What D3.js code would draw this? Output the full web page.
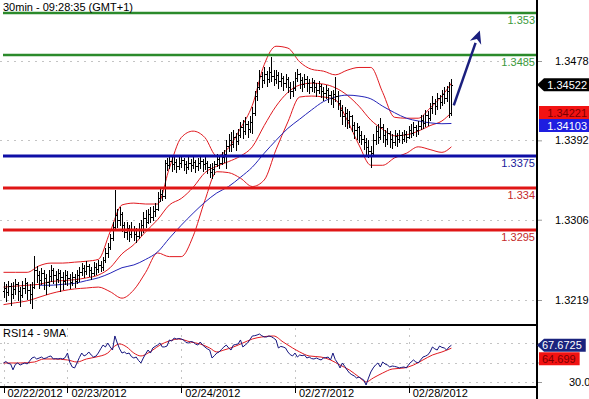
<!DOCTYPE html>
<html>
<head>
<meta charset="utf-8">
<script src="https://cdnjs.cloudflare.com/ajax/libs/d3/7.8.5/d3.min.js"></script>
<style>
  body { margin: 0; background: #fff; }
  svg { display: block; font-family: Arial, "Liberation Sans", sans-serif; }
</style>
</head>
<body>
<svg width="589" height="399"></svg>
<script>
  // DATA
  // 30 min bars, open = previous close
  var firstOpen = 1.3229;
  var closes = [
    1.3232,1.3228,1.3234,1.3226,1.3231,1.3236,1.3229,1.3224,1.3232,1.3237,
    1.3230,1.3226,1.3233,1.3252,1.3246,1.3241,1.3248,1.3243,1.3238,1.3245,
    1.3251,1.3246,1.3242,1.3248,1.3244,1.3240,1.3246,1.3243,1.3238,1.3244,
    1.3240,1.3246,1.3249,1.3254,1.3250,1.3256,1.3252,1.3248,1.3255,1.3253,
    1.3257,1.3255,1.3262,1.3270,1.3276,1.3286,1.3298,1.3311,1.3306,1.3312,
    1.3300,1.3293,1.3297,1.3290,1.3296,1.3291,1.3288,1.3295,1.3300,1.3308,
    1.3303,1.3312,1.3309,1.3315,1.3318,1.3330,1.3334,1.3332,1.3368,1.3365,
    1.3370,1.3366,1.3369,1.3364,1.3368,1.3371,1.3366,1.3363,1.3368,1.3365,
    1.3369,1.3364,1.3367,1.3370,1.3366,1.3368,1.3363,1.3358,1.3361,1.3366,
    1.3372,1.3368,1.3374,1.3377,1.3386,1.3392,1.3388,1.3396,1.3391,1.3398,
    1.3406,1.3402,1.3410,1.3404,1.3412,1.3422,1.3440,1.3450,1.3462,1.3457,
    1.3464,1.3459,1.3466,1.3462,1.3458,1.3463,1.3456,1.3460,1.3454,1.3459,
    1.3450,1.3445,1.3449,1.3460,1.3464,1.3457,1.3453,1.3458,1.3454,1.3450,
    1.3455,1.3450,1.3447,1.3451,1.3445,1.3443,1.3447,1.3441,1.3438,1.3442,
    1.3440,1.3432,1.3425,1.3418,1.3422,1.3414,1.3418,1.3409,1.3403,1.3406,
    1.3398,1.3394,1.3390,1.3385,1.3380,1.3378,1.3392,1.3402,1.3396,1.3406,
    1.3398,1.3393,1.3400,1.3394,1.3390,1.3397,1.3393,1.3398,1.3394,1.3399,
    1.3396,1.3403,1.3400,1.3407,1.3403,1.3408,1.3414,1.3411,1.3419,1.3416,
    1.3427,1.3433,1.3429,1.3438,1.3434,1.3442,1.3438,1.3445,1.3422,1.34522
  ];
  var highs = [
    1.3238,1.3236,1.3240,1.3237,1.3239,1.3242,1.3238,1.3233,1.3240,1.3243,
    1.3239,1.3236,1.3238,1.3267,1.3256,1.3250,1.3254,1.3252,1.3247,1.3251,
    1.3257,1.3254,1.3250,1.3253,1.3252,1.3249,1.3251,1.3250,1.3247,1.3249,
    1.3247,1.3251,1.3255,1.3259,1.3257,1.3261,1.3258,1.3255,1.3260,1.3259,
    1.3262,1.3261,1.3266,1.3275,1.3281,1.3291,1.3304,1.3338,1.3318,1.3320,
    1.3314,1.3304,1.3303,1.3300,1.3304,1.3299,1.3297,1.3302,1.3306,1.3314,
    1.3316,1.3318,1.3320,1.3321,1.3324,1.3336,1.3339,1.3338,1.3371,1.3373,
    1.3375,1.3374,1.3376,1.3372,1.3374,1.3376,1.3373,1.3370,1.3374,1.3372,
    1.3375,1.3371,1.3373,1.3375,1.3372,1.3374,1.3370,1.3366,1.3368,1.3370,
    1.3377,1.3375,1.3379,1.3382,1.3392,1.3399,1.3401,1.3403,1.3400,1.3404,
    1.3412,1.3414,1.3417,1.3413,1.3418,1.3428,1.3446,1.3455,1.3468,1.3466,
    1.3471,1.3467,1.3471,1.3482,1.3468,1.3468,1.3466,1.3465,1.3462,1.3464,
    1.3461,1.3455,1.3456,1.3466,1.3469,1.3465,1.3461,1.3464,1.3462,1.3458,
    1.3460,1.3457,1.3454,1.3456,1.3453,1.3450,1.3452,1.3449,1.3446,1.3447,
    1.3461,1.3445,1.3436,1.3430,1.3428,1.3426,1.3424,1.3419,1.3412,1.3411,
    1.3408,1.3402,1.3398,1.3395,1.3392,1.3386,1.3399,1.3408,1.3410,1.3416,
    1.3410,1.3403,1.3405,1.3402,1.3399,1.3403,1.3400,1.3403,1.3401,1.3403,
    1.3402,1.3408,1.3410,1.3412,1.3409,1.3413,1.3419,1.3420,1.3425,1.3424,
    1.3432,1.3440,1.3437,1.3443,1.3441,1.3447,1.3450,1.3451,1.3455,1.3458
  ];
  var lows = [
    1.3222,1.3218,1.3224,1.3214,1.3221,1.3225,1.3219,1.3212,1.3222,1.3227,
    1.3220,1.3216,1.3210,1.3232,1.3238,1.3232,1.3236,1.3231,1.3226,1.3234,
    1.3240,1.3237,1.3233,1.3238,1.3229,1.3231,1.3236,1.3235,1.3232,1.3235,
    1.3233,1.3237,1.3240,1.3246,1.3244,1.3247,1.3245,1.3242,1.3246,1.3247,
    1.3249,1.3250,1.3252,1.3260,1.3266,1.3274,1.3284,1.3296,1.3298,1.3300,
    1.3294,1.3287,1.3285,1.3283,1.3287,1.3284,1.3282,1.3286,1.3289,1.3293,
    1.3298,1.3302,1.3304,1.3306,1.3310,1.3317,1.3326,1.3327,1.3330,1.3360,
    1.3362,1.3359,1.3361,1.3358,1.3361,1.3363,1.3360,1.3357,1.3361,1.3359,
    1.3362,1.3358,1.3360,1.3362,1.3359,1.3361,1.3357,1.3352,1.3351,1.3356,
    1.3364,1.3362,1.3366,1.3369,1.3362,1.3381,1.3380,1.3385,1.3382,1.3388,
    1.3396,1.3395,1.3399,1.3396,1.3401,1.3400,1.3420,1.3436,1.3448,1.3450,
    1.3454,1.3451,1.3455,1.3456,1.3452,1.3454,1.3449,1.3451,1.3447,1.3450,
    1.3444,1.3438,1.3440,1.3447,1.3456,1.3449,1.3446,1.3450,1.3445,1.3443,
    1.3446,1.3444,1.3440,1.3443,1.3439,1.3436,1.3438,1.3434,1.3431,1.3428,
    1.3435,1.3426,1.3418,1.3410,1.3408,1.3405,1.3407,1.3402,1.3395,1.3394,
    1.3390,1.3388,1.3383,1.3377,1.3374,1.3363,1.3375,1.3388,1.3389,1.3393,
    1.3390,1.3386,1.3388,1.3385,1.3384,1.3387,1.3386,1.3390,1.3389,1.3391,
    1.3390,1.3395,1.3396,1.3398,1.3397,1.3399,1.3404,1.3405,1.3408,1.3409,
    1.3414,1.3422,1.3421,1.3426,1.3427,1.3430,1.3432,1.3435,1.3417,1.3420
  ];

  // first bar of each day
  var dayIdx = [0, 27, 75, 123, 171];
  var dayLabels = ["02/22/2012", "02/23/2012", "02/24/2012", "02/27/2012", "02/28/2012"];

  // bollinger bands and long MA, read every 5 bars
  var bandIdx = [0,5,10,15,20,25,30,35,40,45,50,55,60,65,70,75,80,85,90,95,
                 100,105,110,115,120,125,130,135,140,145,150,155,160,165,170,175,180,185,189];
  var bbUpper = [1.3249,1.3249,1.3249,1.3256,1.3259,1.3259,1.3260,1.3261,1.3263,1.3293,
                 1.3322,1.3324,1.3323,1.3323,1.3362,1.3395,1.3402,1.3395,1.3375,1.3384,
                 1.3405,1.3430,1.3474,1.3494,1.3492,1.3477,1.3469,1.3467,1.3463,1.3468,
                 1.3471,1.3471,1.3444,1.3417,1.3416,1.3416,1.3427,1.3440,1.3454];
  var bbMid = [1.3233,1.3234,1.3235,1.3236,1.3239,1.3240,1.3241,1.3243,1.3246,1.3254,
               1.3269,1.3279,1.3293,1.3306,1.3322,1.3329,1.3341,1.3357,1.3364,1.3369,
               1.3375,1.3385,1.3408,1.3429,1.3444,1.3452,1.3454,1.3453,1.3449,1.3441,
               1.3429,1.3414,1.3404,1.3397,1.3398,1.3402,1.3408,1.3413,1.34221];
  var bbLower = [1.3214,1.3216,1.3218,1.3222,1.3226,1.3229,1.3231,1.3232,1.3233,1.3228,
                 1.3221,1.3230,1.3249,1.3270,1.3266,1.3266,1.3288,1.3327,1.3358,1.3357,
                 1.3351,1.3342,1.3349,1.3382,1.3412,1.3439,1.3440,1.3439,1.3436,1.3414,
                 1.3387,1.3365,1.3365,1.3373,1.3378,1.3385,1.3382,1.3379,1.3385];
  var maLong = [null,null,null,1.3235,1.3235,1.3236,1.3237,1.3240,1.3243,1.3248,
                1.3254,1.3257,1.3263,1.3271,1.3286,1.3300,1.3313,1.3325,1.3335,1.3342,
                1.3352,1.3363,1.3378,1.3392,1.3405,1.3415,1.3425,1.3434,1.3439,1.3441,
                1.3440,1.3437,1.3429,1.3422,1.3416,1.3413,1.3411,1.3410,1.34103];

  var levelValues = [1.353, 1.3485, 1.3375, 1.334, 1.3295];
  var levelLabels = ["1.353", "1.3485", "1.3375", "1.334", "1.3295"];
  var priceTicks = [1.3478, 1.3392, 1.3306, 1.3219];

  var rsiValues = [
    49.5,51.0,49.0,48.5,42.5,48.0,49.5,47.4,48.5,49.5,
    48.5,51.5,54.6,55.6,53.6,54.5,55.6,54.0,54.6,56.0,
    56.7,53.6,54.0,53.6,54.2,53.6,55.0,59.7,50.0,45.4,
    44.4,49.5,55.0,59.7,56.7,58.0,60.8,57.7,55.6,56.5,
    59.7,64.0,67.9,65.9,70.0,66.0,62.8,77.2,70.0,64.0,
    59.7,60.8,59.0,59.7,56.0,54.6,55.6,52.0,49.5,54.6,
    59.0,62.8,59.7,64.9,66.5,67.9,70.0,65.9,66.0,66.9,
    73.1,72.0,75.1,74.0,74.6,74.1,73.1,70.5,70.0,71.5,
    71.0,69.0,67.9,71.0,68.0,65.9,64.0,62.8,54.6,57.0,
    59.7,60.8,63.5,65.9,67.9,65.0,62.8,67.9,68.5,69.0,
    73.1,65.9,68.0,70.0,73.5,77.2,77.5,78.2,79.2,77.5,
    76.2,76.2,77.2,76.5,75.0,73.1,64.9,66.5,65.9,64.9,
    60.8,58.0,56.7,59.7,55.6,57.7,57.0,57.7,54.6,55.6,
    54.0,53.6,54.6,53.5,52.6,54.6,55.0,55.6,52.6,59.7,
    53.0,49.5,44.4,49.5,46.0,42.3,39.2,37.5,36.2,34.1,
    35.1,33.5,32.1,26.9,34.0,40.3,44.4,47.5,49.5,45.4,
    50.5,48.5,47.4,45.4,46.4,46.0,45.4,44.4,45.0,45.4,
    44.4,48.0,50.5,52.6,50.5,49.5,52.6,55.6,56.5,57.7,
    60.8,65.9,64.0,62.8,66.9,65.5,64.9,62.8,65.9,67.6725
  ];
  var rsiMaIdx = [0,7,13,17,21,27,31,35,39,44,46,49,52,55,58,61,63,66,70,74,
                  79,83,87,90,93,97,101,105,109,114,118,122,125,129,134,138,142,146,150,153,
                  156,160,164,169,173,177,181,185,189];
  var rsiMaValues = [49.5,49.5,50.5,53.6,53.6,52.6,50.5,53.6,55.6,59.7,64.9,69.0,65.9,59.7,56.7,59.7,62.8,67.9,72.1,74.1,
                     71.0,69.0,64.9,60.8,62.8,65.9,70.0,74.1,76.2,77.2,71.0,64.9,60.8,56.7,55.6,52.6,47.4,42.3,35.1,30.0,
                     34.1,39.2,43.3,44.4,47.4,52.6,57.7,60.8,64.699];
  var rsiGrid = [30, 50, 70];
  var rsiTickLabels = [30];   // 50 and 70 sit under the value tags

  var lastPrice = 1.34522, lastMid = 1.34221, lastMa = 1.34103;
  var rsiLast = 67.6725, rsiMaLast = 64.699;
  // drawn target arrow, bar index / price
  var arrowFrom = [190, 1.3430], arrowTo = [201, 1.3511];

  // SETUP
  var svg = d3.select("svg"),
    axisX = 537,
    mainBottom = 325,
    rsiBottom = 387;

  var x = d3.scaleLinear().domain([0, 189]).range([3.5, 451.4]),
    y = d3.scaleLinear().domain([1.3219, 1.3478]).range([300, 61]),
    yr = d3.scaleLinear().domain([30, 70]).range([382, 343]);

  var levelColor = { "1.353": "#2b8a2b", "1.3485": "#2b8a2b", "1.3375": "#0e0ea6", "1.334": "#e01616", "1.3295": "#e01616" };
  var levelText = { "1.353": "#3c9a3c", "1.3485": "#3c9a3c", "1.3375": "#1a1a9a", "1.334": "#c42a2a", "1.3295": "#c42a2a" };

  var defs = svg.append("defs");
  defs.append("clipPath").attr("id", "mainClip")
    .append("rect").attr("x", 0).attr("y", 0).attr("width", axisX).attr("height", mainBottom);
  defs.append("clipPath").attr("id", "rsiClip")
    .append("rect").attr("x", 0).attr("y", mainBottom + 1).attr("width", axisX).attr("height", rsiBottom - mainBottom - 1);

  function py(v) { return Math.round(v) + 0.5; }

  // gridlines
  var grid = svg.append("g")
    .attr("stroke", "#c4c4c4")
    .attr("stroke-dasharray", "2,5")
    .attr("shape-rendering", "crispEdges");

  grid.selectAll(".gp")
    .data(priceTicks)
    .enter().append("line")
    .attr("x1", 0).attr("x2", axisX)
    .attr("y1", function (d) { return py(y(d)); })
    .attr("y2", function (d) { return py(y(d)); });

  grid.selectAll(".gr")
    .data(rsiGrid)
    .enter().append("line")
    .attr("x1", 0).attr("x2", axisX)
    .attr("y1", function (d) { return py(yr(d)); })
    .attr("y2", function (d) { return py(yr(d)); });

  grid.selectAll(".gd")
    .data(dayIdx)
    .enter().append("line")
    .attr("x1", function (d) { return py(x(d)); })
    .attr("x2", function (d) { return py(x(d)); })
    .attr("y1", mainBottom + 3).attr("y2", rsiBottom - 1);

  // bands + MA
  var main = svg.append("g").attr("clip-path", "url(#mainClip)");

  function bandLine(arr) {
    return d3.line()
      .defined(function (d, i) { return arr[i] != null; })
      .x(function (d, i) { return x(bandIdx[i]); })
      .y(function (d, i) { return y(arr[i]); })
      .curve(d3.curveMonotoneX)(bandIdx);
  }

  [bbUpper, bbMid, bbLower].forEach(function (arr) {
    main.append("path")
      .attr("d", bandLine(arr))
      .attr("fill", "none")
      .attr("stroke", "#e0191f")
      .attr("stroke-width", 1);
  });

  main.append("path")
    .attr("d", bandLine(maLong))
    .attr("fill", "none")
    .attr("stroke", "#2424b8")
    .attr("stroke-width", 1);

  // ohlc bars
  var bars = main.append("g")
    .attr("stroke", "#000")
    .attr("stroke-width", 1)
    .attr("shape-rendering", "crispEdges");

  var barG = bars.selectAll(".bar")
    .data(closes)
    .enter().append("g")
    .attr("class", "bar");

  barG.append("line")
    .attr("x1", function (d, i) { return py(x(i)); })
    .attr("x2", function (d, i) { return py(x(i)); })
    .attr("y1", function (d, i) { return Math.round(y(highs[i])); })
    .attr("y2", function (d, i) { return Math.round(y(lows[i])) + 1; });

  barG.append("line")
    .attr("x1", function (d, i) { return py(x(i)) - 1.5; })
    .attr("x2", function (d, i) { return py(x(i)); })
    .attr("y1", function (d, i) { return py(y(i ? closes[i - 1] : firstOpen)); })
    .attr("y2", function (d, i) { return py(y(i ? closes[i - 1] : firstOpen)); });

  barG.append("line")
    .attr("x1", function (d, i) { return py(x(i)); })
    .attr("x2", function (d, i) { return py(x(i)) + 1.5; })
    .attr("y1", function (d) { return py(y(d)); })
    .attr("y2", function (d) { return py(y(d)); });

  // horizontal levels
  svg.append("g").selectAll("line")
    .data(levelValues)
    .enter().append("line")
    .attr("x1", 3).attr("x2", axisX)
    .attr("y1", function (d) { return Math.round(y(d)); })
    .attr("y2", function (d) { return Math.round(y(d)); })
    .attr("stroke", function (d, i) { return levelColor[levelLabels[i]]; })
    .attr("stroke-width", function (d, i) { return i < 2 ? 2.5 : 3; });

  svg.append("g").selectAll("text")
    .data(levelValues)
    .enter().append("text")
    .attr("x", axisX - 2)
    .attr("y", function (d) { return Math.round(y(d)) + 11; })
    .attr("text-anchor", "end")
    .attr("font-size", "11px")
    .attr("fill", function (d, i) { return levelText[levelLabels[i]]; })
    .text(function (d, i) { return levelLabels[i]; });

  // arrow
  var a0 = [x(arrowFrom[0]), y(arrowFrom[1])],
    a1 = [x(arrowTo[0]), y(arrowTo[1])];
  var adx = a1[0] - a0[0], ady = a1[1] - a0[1], alen = Math.sqrt(adx * adx + ady * ady);
  var ux = adx / alen, uy = ady / alen;
  var bx = a1[0] - ux * 13, by = a1[1] - uy * 13;
  svg.append("line")
    .attr("x1", a0[0]).attr("y1", a0[1])
    .attr("x2", bx).attr("y2", by)
    .attr("stroke", "#1b1f7e")
    .attr("stroke-width", 2.5);
  svg.append("polygon")
    .attr("points", [
      [a1[0], a1[1]],
      [bx - uy * 6, by + ux * 6],
      [a1[0] - ux * 9, a1[1] - uy * 9],
      [bx + uy * 6, by - ux * 6]
    ].map(function (p) { return p.join(","); }).join(" "))
    .attr("fill", "#1b1f7e");

  // rsi panel
  var rsiG = svg.append("g").attr("clip-path", "url(#rsiClip)");

  rsiG.append("path")
    .attr("d", d3.line()
      .x(function (d, i) { return x(rsiMaIdx[i]); })
      .y(function (d) { return yr(d); })
      .curve(d3.curveMonotoneX)(rsiMaValues))
    .attr("fill", "none")
    .attr("stroke", "#e0191f")
    .attr("stroke-width", 1);

  rsiG.append("path")
    .attr("d", d3.line()
      .x(function (d, i) { return x(i); })
      .y(function (d) { return yr(d); })(rsiValues))
    .attr("fill", "none")
    .attr("stroke", "#14147e")
    .attr("stroke-width", 1);

  // frame
  var frame = svg.append("g").attr("stroke", "#000").attr("shape-rendering", "crispEdges");
  frame.append("line").attr("x1", axisX).attr("x2", axisX).attr("y1", 0).attr("y2", 399).attr("stroke-width", 2);
  frame.append("line").attr("x1", 0).attr("x2", axisX).attr("y1", mainBottom).attr("y2", mainBottom).attr("stroke-width", 2);
  frame.append("line").attr("x1", 0).attr("x2", axisX).attr("y1", rsiBottom).attr("y2", rsiBottom).attr("stroke-width", 2);

  // axes
  var yAxisG = svg.append("g")
    .attr("transform", "translate(" + (axisX + 1) + ",0)")
    .call(d3.axisRight(y).tickValues(priceTicks).tickFormat(d3.format(".4f")).tickSize(4).tickPadding(13));

  var rAxisG = svg.append("g")
    .attr("transform", "translate(" + (axisX + 1) + ",0)")
    .call(d3.axisRight(yr).tickValues(rsiGrid).tickFormat(function (d) {
      return rsiTickLabels.indexOf(d) >= 0 ? d3.format(".1f")(d) : "";
    }).tickSize(4).tickPadding(27));

  var xAxisG = svg.append("g")
    .attr("transform", "translate(0," + rsiBottom + ")")
    .call(d3.axisBottom(x).tickValues(dayIdx).tickFormat(function (d, i) { return dayLabels[i]; }).tickSize(6));

  [yAxisG, rAxisG, xAxisG].forEach(function (g) {
    g.select(".domain").remove();
    g.selectAll("text")
      .attr("font-family", "Arial, 'Liberation Sans', sans-serif")
      .attr("font-size", "11px")
      .attr("fill", "#000");
  });
  rAxisG.selectAll("text").filter(function () { return this.textContent === ""; }).remove();
  yAxisG.selectAll("line").attr("stroke", "#999");
  rAxisG.selectAll("line").attr("stroke", "#999");
  xAxisG.selectAll("line").attr("stroke", "#000").attr("shape-rendering", "crispEdges");
  xAxisG.selectAll("text")
    .attr("text-anchor", "start")
    .attr("x", 3.5)
    .attr("y", 2);

  // titles
  svg.append("text")
    .attr("x", 3).attr("y", 11)
    .attr("font-size", "11px")
    .text("30min - 09:28:35 (GMT+1)");

  svg.append("text")
    .attr("x", 3).attr("y", 337)
    .attr("font-size", "11px")
    .text("RSI14 - 9MA");

  // value tags on the right
  function tag(yc, label, fill, color, pointer, leftText) {
    var g = svg.append("g");
    var h = 13;
    var t = g.append("text")
      .attr("font-size", "11px")
      .attr("fill", color)
      .attr("y", yc + 4)
      .text(label);
    var x0 = pointer ? axisX : axisX + 2, x1 = 589;
    if (leftText) {
      t.attr("x", axisX + 5);
      x1 = Math.min(589, axisX + 5 + t.node().getComputedTextLength() + 4);
    } else {
      t.attr("x", 587).attr("text-anchor", "end");
    }
    var pts = pointer
      ? [[x0, yc], [x0 + 7, yc - h / 2], [x1, yc - h / 2], [x1, yc + h / 2], [x0 + 7, yc + h / 2]]
      : [[x0, yc - h / 2], [x1, yc - h / 2], [x1, yc + h / 2], [x0, yc + h / 2]];
    g.insert("polygon", "text")
      .attr("points", pts.map(function (p) { return p.join(","); }).join(" "))
      .attr("fill", fill);
    return yc;
  }

  var fmt5 = d3.format(".5f");
  tag(y(lastPrice), fmt5(lastPrice), "#000", "#fff", true, false);
  var midY = tag(y(lastMid), fmt5(lastMid), "#f21212", "#7a0000", false, false);
  tag(Math.max(y(lastMa), midY + 13), fmt5(lastMa), "#1e1ee0", "#fff", false, false);
  var rY = tag(yr(rsiLast), String(rsiLast), "#1a237e", "#fff", true, true);
  tag(Math.max(yr(rsiMaLast), rY + 13.5), String(rsiMaLast), "#f21212", "#7a0000", false, true);
</script>
</body>
</html>
